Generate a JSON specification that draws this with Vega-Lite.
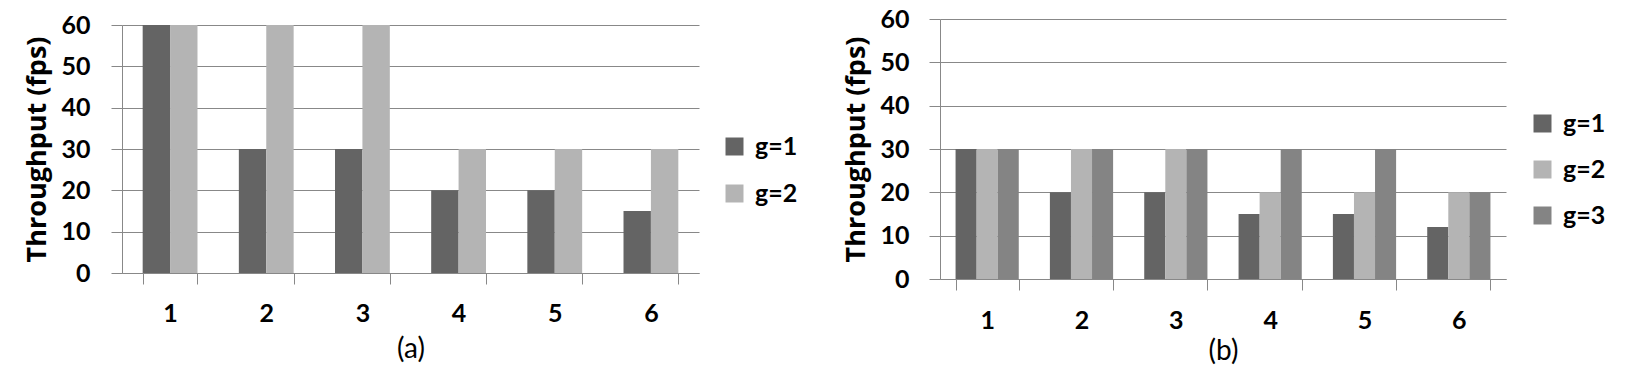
{
  "$schema": "https://vega.github.io/schema/vega-lite/v6.json",
  "background": "white",
  "padding": {"left": 23, "top": 7, "right": 0, "bottom": 0},
  "spacing": 44,
  "config": {
    "view": {"stroke": null},
    "axis": {
      "labelFont": "Lato", "labelFontWeight": "bold", "labelFontSize": 25, "labelColor": "black",
      "titleFont": "Open Sans", "titleFontWeight": "bold", "titleFontSize": 27, "titleColor": "black",
      "domainColor": "#888888", "tickColor": "#888888", "gridColor": "#888888",
      "domainWidth": 1, "tickWidth": 1, "gridWidth": 1, "tickSize": 11
    },
    "legend": {
      "labelFont": "Lato", "labelFontWeight": "bold", "labelFontSize": 25, "labelColor": "black",
      "symbolType": "square", "symbolSize": 324, "symbolStrokeWidth": 0, "symbolOpacity": 1,
      "padding": 0, "labelOffset": 8
    }
  },
  "resolve": {"scale": {"color": "independent", "x": "independent", "y": "independent", "xOffset": "independent"}},
  "hconcat": [
    {
      "width": 577,
      "height": 254,
      "data": {"values": [
        {"cfg": "1", "g": "g=1", "fps": 60}, {"cfg": "1", "g": "g=2", "fps": 60},
        {"cfg": "2", "g": "g=1", "fps": 30}, {"cfg": "2", "g": "g=2", "fps": 60},
        {"cfg": "3", "g": "g=1", "fps": 30}, {"cfg": "3", "g": "g=2", "fps": 60},
        {"cfg": "4", "g": "g=1", "fps": 20}, {"cfg": "4", "g": "g=2", "fps": 30},
        {"cfg": "5", "g": "g=1", "fps": 20}, {"cfg": "5", "g": "g=2", "fps": 30},
        {"cfg": "6", "g": "g=1", "fps": 15}, {"cfg": "6", "g": "g=2", "fps": 30}
      ]},
      "mark": {"type": "bar"},
      "encoding": {
        "x": {
          "field": "cfg", "type": "ordinal",
          "scale": {"paddingInner": 0.43, "paddingOuter": 0.215},
          "axis": {"title": "(a)", "titleFont": "Lato", "titleFontWeight": "normal", "titleFontSize": 28, "titlePadding": 9,
                   "labelAngle": 0, "tickBand": "extent", "labelPadding": 17, "domain": true}
        },
        "xOffset": {"field": "g", "type": "nominal"},
        "y": {
          "field": "fps", "type": "quantitative",
          "scale": {"domain": [0, 60], "nice": false, "range": [254, 6]},
          "axis": {"title": "Throughput (fps)", "values": [0, 10, 20, 30, 40, 50, 60], "grid": true, "labelPadding": 21, "titlePadding": 9}
        },
        "color": {
          "field": "g", "type": "nominal",
          "scale": {"domain": ["g=1", "g=2"], "range": ["#646464", "#b4b4b4"]},
          "legend": {"title": null, "orient": "none", "legendX": 600, "legendY": 115, "rowPadding": 21}
        }
      }
    },
    {
      "width": 566,
      "height": 260,
      "data": {"values": [
        {"cfg": "1", "g": "g=1", "fps": 30}, {"cfg": "1", "g": "g=2", "fps": 30}, {"cfg": "1", "g": "g=3", "fps": 30},
        {"cfg": "2", "g": "g=1", "fps": 20}, {"cfg": "2", "g": "g=2", "fps": 30}, {"cfg": "2", "g": "g=3", "fps": 30},
        {"cfg": "3", "g": "g=1", "fps": 20}, {"cfg": "3", "g": "g=2", "fps": 30}, {"cfg": "3", "g": "g=3", "fps": 30},
        {"cfg": "4", "g": "g=1", "fps": 15}, {"cfg": "4", "g": "g=2", "fps": 20}, {"cfg": "4", "g": "g=3", "fps": 30},
        {"cfg": "5", "g": "g=1", "fps": 15}, {"cfg": "5", "g": "g=2", "fps": 20}, {"cfg": "5", "g": "g=3", "fps": 30},
        {"cfg": "6", "g": "g=1", "fps": 12}, {"cfg": "6", "g": "g=2", "fps": 20}, {"cfg": "6", "g": "g=3", "fps": 20}
      ]},
      "mark": {"type": "bar"},
      "encoding": {
        "x": {
          "field": "cfg", "type": "ordinal",
          "scale": {"paddingInner": 0.33, "paddingOuter": 0.165},
          "axis": {"title": "(b)", "titleFont": "Lato", "titleFontWeight": "normal", "titleFontSize": 28, "titlePadding": 4,
                   "labelAngle": 0, "tickBand": "extent", "labelPadding": 18, "domain": true}
        },
        "xOffset": {"field": "g", "type": "nominal"},
        "y": {
          "field": "fps", "type": "quantitative",
          "scale": {"domain": [0, 60], "nice": false},
          "axis": {"title": "Throughput (fps)", "values": [0, 10, 20, 30, 40, 50, 60], "grid": true, "labelPadding": 20, "titlePadding": 9}
        },
        "color": {
          "field": "g", "type": "nominal",
          "scale": {"domain": ["g=1", "g=2", "g=3"], "range": ["#646464", "#b4b4b4", "#848484"]},
          "legend": {"title": null, "orient": "none", "legendX": 590, "legendY": 92, "rowPadding": 20}
        }
      }
    }
  ]
}
